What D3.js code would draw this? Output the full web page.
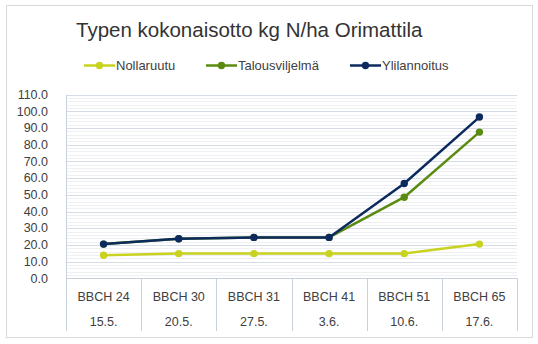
<!DOCTYPE html>
<html><head><meta charset="utf-8">
<script src="https://cdn.jsdelivr.net/npm/d3@7"></script>
<style>
html,body{margin:0;padding:0;background:#fff;}
svg{display:block;font-family:"Liberation Sans",Arial,sans-serif;}
</style></head>
<body>
<svg id="c" width="538" height="344"></svg>
<script>
const title = "Typen kokonaisotto kg N/ha Orimattila";
const stages = ["BBCH 24","BBCH 30","BBCH 31","BBCH 41","BBCH 51","BBCH 65"];
const dates = ["15.5.","20.5.","27.5.","3.6.","10.6.","17.6."];
const seriesNames = ["Nollaruutu","Talousviljelmä","Ylilannoitus"];
const nollaruutu = [13.8, 14.8, 14.8, 14.8, 14.8, 20.5];
const talousviljelma = [20.5, 23.7, 24.5, 24.5, 48.6, 87.6];
const ylilannoitus = [20.5, 23.7, 24.5, 24.5, 56.8, 96.6];
const yTicks = [0,10,20,30,40,50,60,70,80,90,100,110];
const colors = ["#c8d21f","#5a8a10","#0c2a5e"];

const svg = d3.select("#c");
const L = 66, R = 517, T = 94.7, B = 278.3;

// frame
svg.append("rect").attr("x",6.5).attr("y",5.5).attr("width",526).attr("height",332)
  .attr("fill","#fff").attr("stroke","#d9d9d9");

const x = d3.scaleBand().domain(stages).range([L,R]).padding(0);
const y = d3.scaleLinear().domain([0,110]).range([B,T]);

// minor gridlines
const minor = d3.range(0,110,2).filter(v=>v%10!==0);
svg.append("g").selectAll("line").data(minor).join("line")
  .attr("x1",L).attr("x2",R).attr("y1",d=>Math.round(y(d))+0.5).attr("y2",d=>Math.round(y(d))+0.5)
  .attr("stroke","#eef0f4").attr("stroke-width",1);
// major gridlines
svg.append("g").selectAll("line").data(yTicks.filter(v=>v>0)).join("line")
  .attr("x1",L).attr("x2",R).attr("y1",d=>Math.round(y(d))+0.5).attr("y2",d=>Math.round(y(d))+0.5)
  .attr("stroke","#d6dce6").attr("stroke-width",1);

// y axis labels
const yAxis = d3.axisLeft(y).tickValues(yTicks).tickFormat(d3.format(".1f")).tickSize(0).tickPadding(0);
const gy = svg.append("g").attr("transform",`translate(${L-18},0)`).call(yAxis);
gy.select(".domain").remove();
gy.selectAll("text").attr("font-size","12.5px").attr("fill","#404040").attr("font-family","Liberation Sans, Arial, sans-serif").attr("dy","0.3em");

// x axis line and category separators
svg.append("line").attr("x1",L).attr("x2",R).attr("y1",Math.round(B)+0.5).attr("y2",Math.round(B)+0.5)
  .attr("stroke","#c9d1dd");
const bounds = stages.map(s=>x(s)).concat([R]);
svg.append("g").selectAll("line").data(bounds).join("line")
  .attr("x1",d=>Math.round(d)+0.5).attr("x2",d=>Math.round(d)+0.5)
  .attr("y1",d=> d===L ? T : B).attr("y2",331)
  .attr("stroke","#c9d1dd");

const xAxis = d3.axisBottom(x).tickSize(0).tickPadding(0);
const gx = svg.append("g").attr("transform",`translate(0,${B})`).call(xAxis);
gx.select(".domain").remove();
gx.selectAll("text").attr("font-size","12.5px").attr("fill","#404040")
  .attr("font-family","Liberation Sans, Arial, sans-serif").attr("dy",0).attr("y",22.5);
gx.selectAll(".tick").append("text").text((d,i)=>dates[i])
  .attr("font-size","12.5px").attr("fill","#404040").attr("text-anchor","middle")
  .attr("y",47.5);

// series
const data = [nollaruutu, talousviljelma, ylilannoitus];
const line = d3.line().x((d,i)=>x(stages[i])+x.bandwidth()/2).y(d=>y(d));
data.forEach((vals,k)=>{
  const g = svg.append("g");
  g.append("path").datum(vals).attr("d",line).attr("fill","none")
    .attr("stroke",colors[k]).attr("stroke-width",2.5).attr("stroke-linejoin","round");
  g.selectAll("circle").data(vals).join("circle")
    .attr("cx",(d,i)=>x(stages[i])+x.bandwidth()/2).attr("cy",d=>y(d)).attr("r",3.7)
    .attr("fill",colors[k]);
});

// title
svg.append("text").attr("x",76).attr("y",37).text(title)
  .attr("font-size","20.5px").attr("fill","#333333");

// legend
const legX = [84, 206, 350];
seriesNames.forEach((n,k)=>{
  const g = svg.append("g").attr("transform",`translate(${legX[k]},65.5)`);
  g.append("line").attr("x1",0).attr("x2",31).attr("stroke",colors[k]).attr("stroke-width",2.5);
  g.append("circle").attr("cx",15.5).attr("r",3.7).attr("fill",colors[k]);
  g.append("text").attr("x",32).attr("dy","0.35em").text(n).attr("font-size","13px").attr("fill","#404040");
});
</script>
</body></html>
